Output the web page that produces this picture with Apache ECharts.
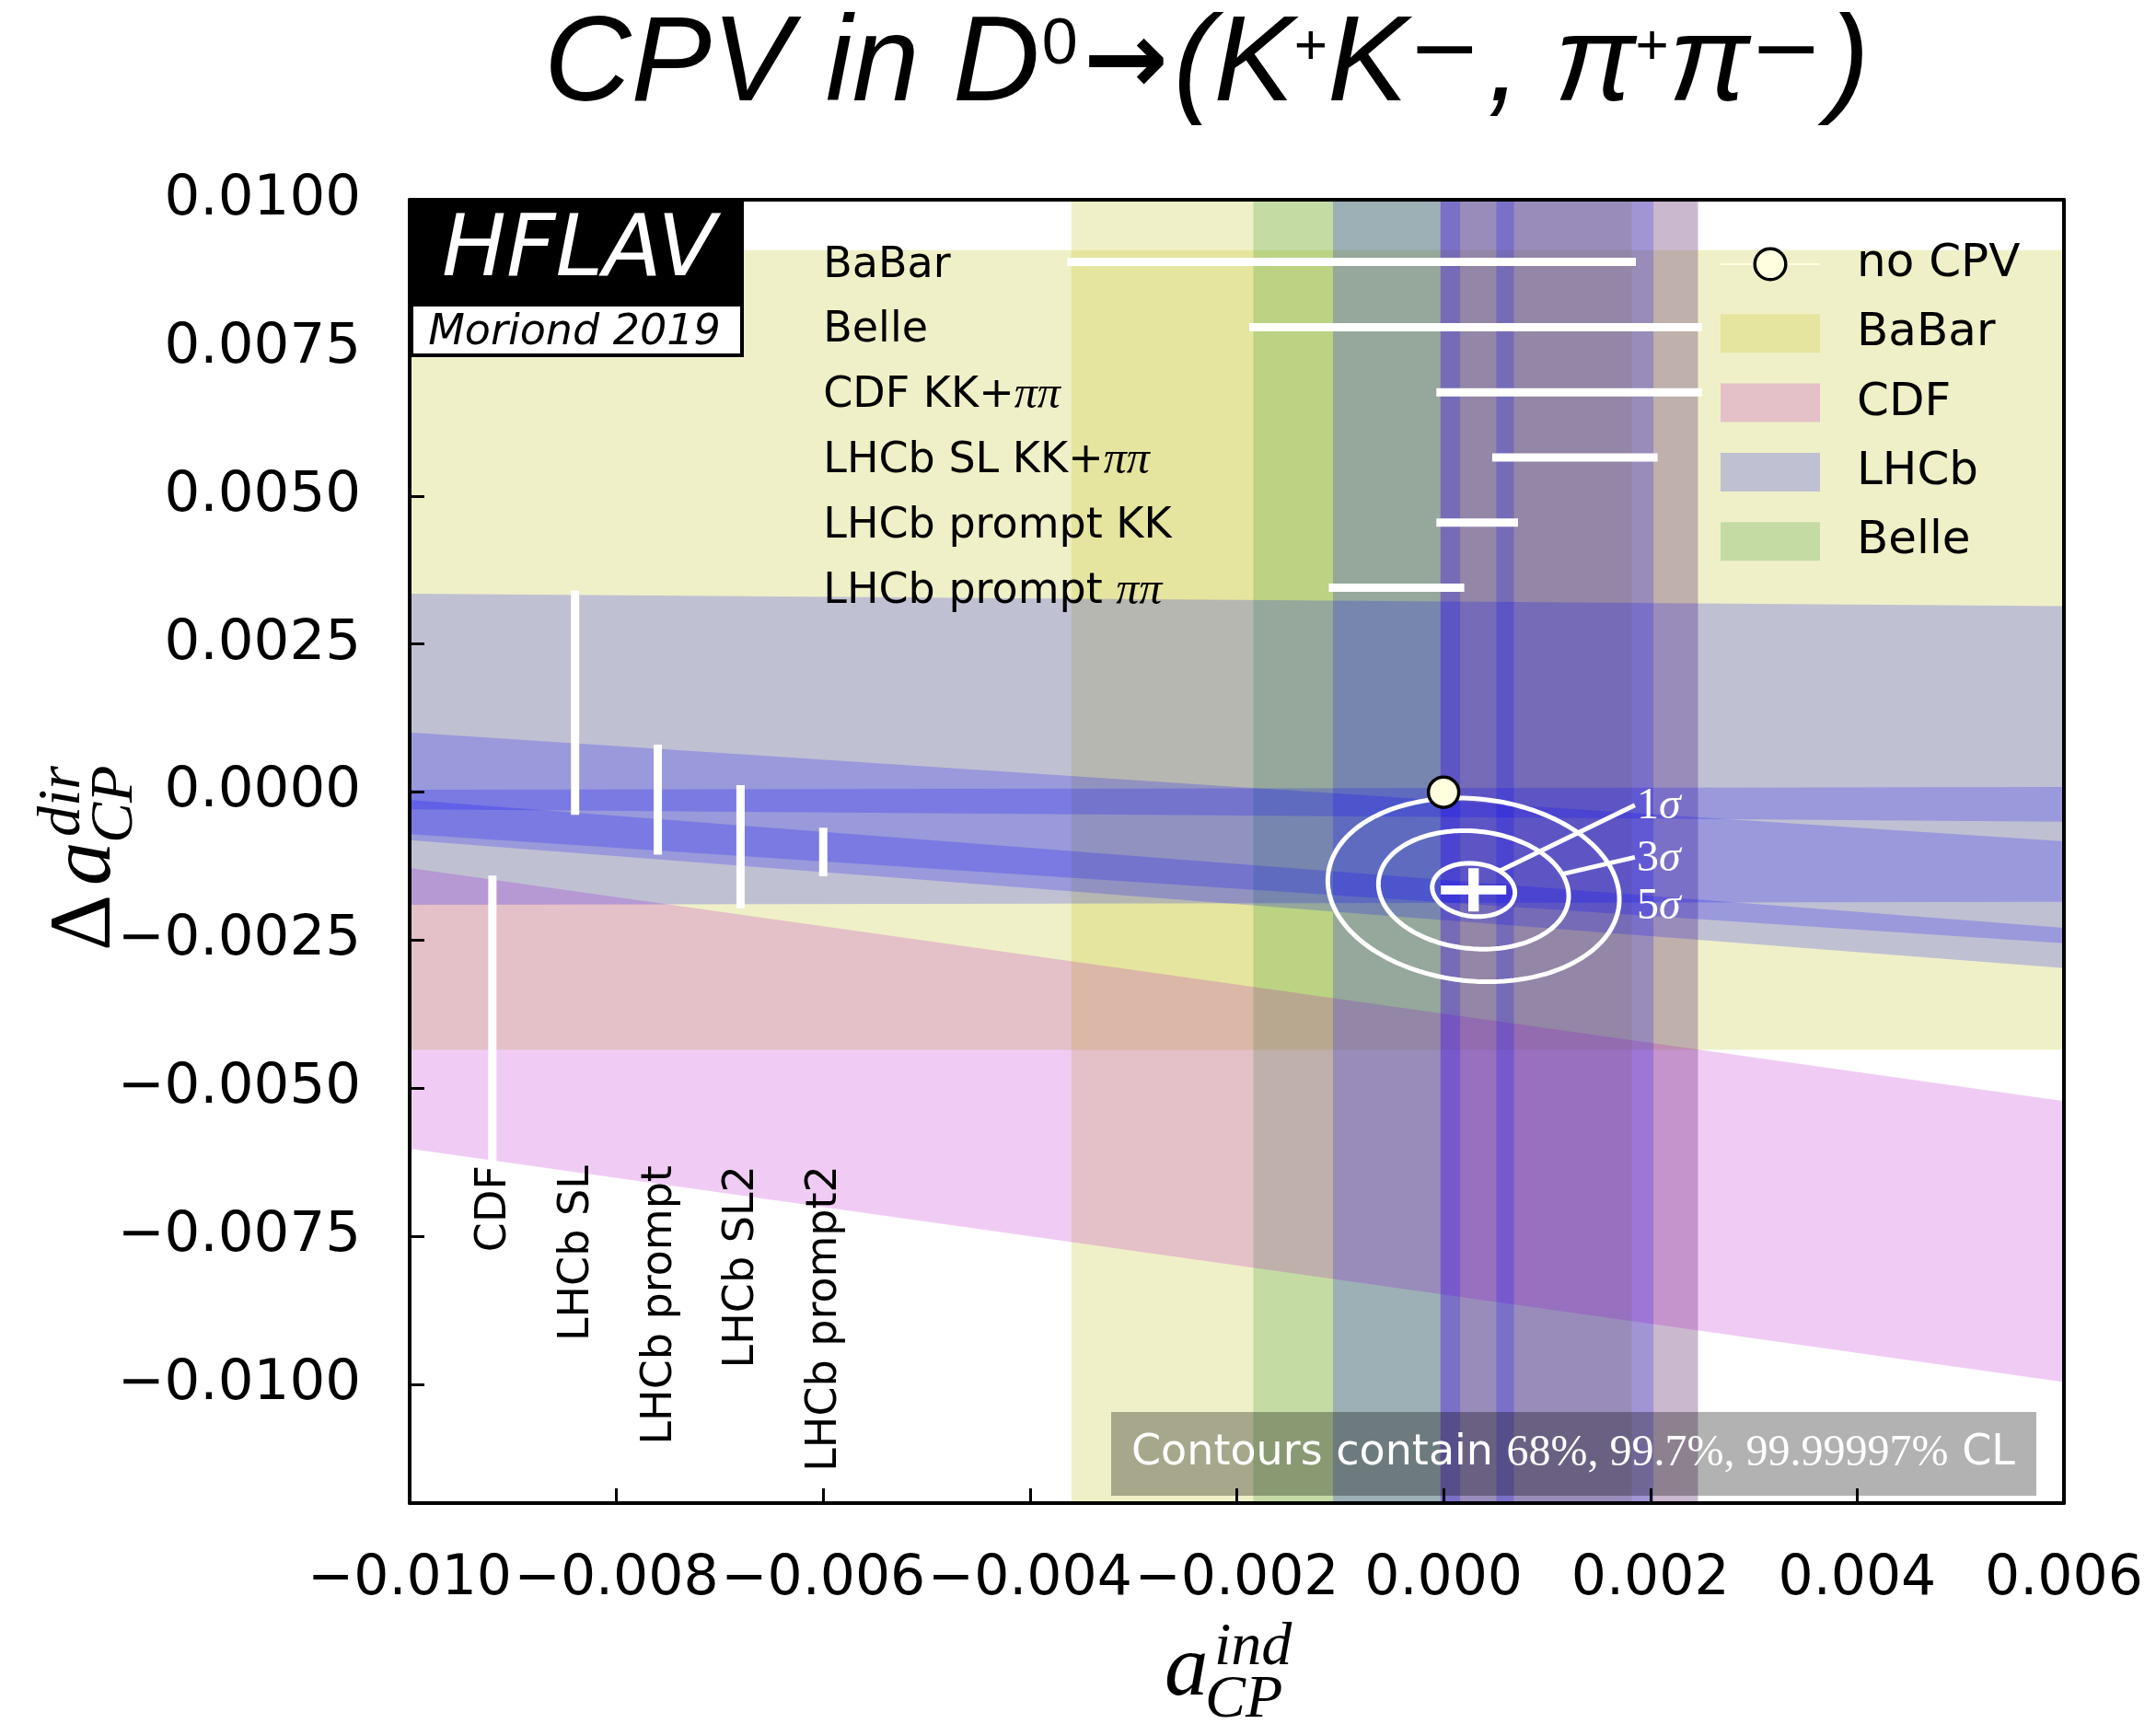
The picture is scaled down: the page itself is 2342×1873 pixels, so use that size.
<!DOCTYPE html>
<html>
<head>
<meta charset="utf-8">
<script src="https://cdn.jsdelivr.net/npm/echarts@6/dist/echarts.min.js"></script>
<style>
  html, body { margin: 0; padding: 0; background: #fff; }
  #chart { width: 2342px; height: 1873px; }
</style>
</head>
<body>
<div id="chart"></div>
<script>
// ---------- axis ranges ----------
const X_MIN = -0.010, X_MAX = 0.006, X_STEP = 0.002;
const Y_MIN = -0.012, Y_MAX = 0.010;
const yTicks = [0.0100, 0.0075, 0.0050, 0.0025, 0.0000, -0.0025, -0.0050, -0.0075, -0.0100];

// ---------- a_CP^ind measurements (vertical bands) ----------
const indLabels = ['BaBar', 'Belle', 'CDF KK+ππ', 'LHCb SL KK+ππ', 'LHCb prompt KK', 'LHCb prompt ππ'];
const indExpt   = ['BaBar', 'Belle', 'CDF', 'LHCb', 'LHCb', 'LHCb'];
const indLow    = [-0.00360, -0.00184, -0.00003, 0.00051, -0.00003, -0.00107];
const indHigh   = [ 0.00182,  0.00246,  0.00246, 0.00203,  0.00068,  0.00016];

// ---------- ΔA_CP measurements: Δa_dir = ΔA_CP − (Δ<t>/τ)·a_ind ----------
const dirLabels = ['BaBar', 'CDF', 'LHCb SL', 'LHCb prompt', 'LHCb SL2', 'LHCb prompt2'];
const dirExpt   = ['BaBar', 'CDF', 'LHCb', 'LHCb', 'LHCb', 'LHCb'];
const dirValue  = [0.00240, -0.00611, 0.00140, -0.00100, -0.00090, -0.00182];
const dirError  = [0.00675,  0.00237, 0.00182,  0.00086,  0.00097,  0.00034];
const dirTime   = [0.000,    0.246,   0.013,    0.115,   -0.003,    0.135];
const dirBarX   = [null,    -0.0092, -0.0084,  -0.0076,  -0.0068,  -0.0060];

// ---------- world average and its confidence contours ----------
const avgCenter = [0.00029, -0.00165];
const avgHalfX  = [0.00040, 0.00092, 0.00141];
const avgHalfY  = [0.00045, 0.00100, 0.00155];
const avgRho    = -0.10;
const sigmaTags = ['1σ', '3σ', '5σ'];
const noCPV     = [0, 0];

// ---------- styling ----------
const exptColor = {
  BaBar: 'rgba(195,195,35,0.25)',
  CDF:   'rgba(180,0,200,0.2)',
  LHCb:  'rgba(0,0,255,0.2)',
  Belle: 'rgba(20,140,20,0.2)'
};
const drawOrder = ['BaBar', 'Belle', 'CDF', 'LHCb'];
const LIST_X = -0.006, ROW_TOP = 0.00895, ROW_STEP = 0.0011;  // measurement list layout
const NAME_Y = -0.0063;                                       // end of rotated names
const TAG_X = 0.00185, TAG_Y = [-0.00022, -0.0011, -0.0019];  // σ tags
const TAG_ANGLE = [0.89, 0.37, null];                         // where leaders leave the contours
const BAR_W = 9;

const fmtSigned = (v, d) => (v < -1e-12 ? '\u2212' : '') + Math.abs(v).toFixed(d);
const richName = s => s.indexOf('ππ') >= 0 ? '{t|' + s.replace('ππ', '') + '}{m|ππ}' : '{t|' + s + '}';
const nameRich = {
  t: { font: '46px "DejaVu Sans"', fill: '#000' },
  m: { font: 'italic 50px "Liberation Serif"', fill: '#000' }
};

function bandSeries(expt) {
  const data = [];
  dirExpt.forEach((e, i) => { if (e === expt) data.push([1, dirValue[i], dirError[i], dirTime[i]]); });
  indExpt.forEach((e, i) => { if (e === expt) data.push([0, indLow[i], indHigh[i], 0]); });
  return {
    type: 'custom', name: expt, clip: true, z: 2, silent: true,
    itemStyle: { color: exptColor[expt] },
    data: data,
    renderItem(params, api) {
      const kind = api.value(0), a = api.value(1), b = api.value(2), r = api.value(3);
      let pts;
      if (kind === 0) {
        pts = [[a, Y_MIN], [b, Y_MIN], [b, Y_MAX], [a, Y_MAX]];
      } else {
        const at = x => a - r * x;
        pts = [[X_MIN, at(X_MIN) + b], [X_MAX, at(X_MAX) + b], [X_MAX, at(X_MAX) - b], [X_MIN, at(X_MIN) - b]];
      }
      return { type: 'polygon', shape: { points: pts.map(p => api.coord(p)) }, style: { fill: exptColor[expt] } };
    }
  };
}

const series = drawOrder.map(bandSeries);

// list of a_CP^ind measurements with their ranges
series.push({
  type: 'custom', name: 'ind-list', z: 5, silent: true, clip: false,
  data: indLabels.map((_, i) => [indLow[i], indHigh[i], i]),
  renderItem(params, api) {
    const i = api.value(2);
    const y = ROW_TOP - ROW_STEP * i;
    const p1 = api.coord([api.value(0), y]), p2 = api.coord([api.value(1), y]);
    const pt = api.coord([LIST_X, y]);
    return { type: 'group', children: [
      { type: 'line', shape: { x1: p1[0], y1: p1[1], x2: p2[0], y2: p2[1] },
        style: { stroke: '#fff', lineWidth: BAR_W, lineCap: 'square' } },
      { type: 'text', x: pt[0], y: pt[1] + 4,
        style: { text: richName(indLabels[i]), rich: nameRich, font: '46px "DejaVu Sans"', fill: '#000',
                 align: 'left', verticalAlign: 'middle' } }
    ] };
  }
});

// ΔA_CP ranges shown at fixed a_ind, with rotated names
series.push({
  type: 'custom', name: 'dir-list', z: 5, silent: true, clip: false,
  data: dirBarX.map((x, i) => x === null ? null : [x, i]).filter(d => d),
  renderItem(params, api) {
    const x = api.value(0), i = api.value(1);
    const c = dirValue[i] - dirTime[i] * x;
    const p1 = api.coord([x, c + dirError[i]]), p2 = api.coord([x, c - dirError[i]]);
    const pt = api.coord([x, NAME_Y]);
    return { type: 'group', children: [
      { type: 'line', shape: { x1: p1[0], y1: p1[1], x2: p2[0], y2: p2[1] },
        style: { stroke: '#fff', lineWidth: BAR_W, lineCap: 'square' } },
      { type: 'text', x: pt[0] + 2, y: pt[1], rotation: Math.PI / 2,
        style: { text: dirLabels[i], font: '46px "DejaVu Sans"', fill: '#000',
                 align: 'right', verticalAlign: 'middle' } }
    ] };
  }
});

// confidence contours of the average
series.push({
  type: 'custom', name: 'contours', z: 6, silent: true, clip: true,
  data: avgHalfX.map((hx, i) => [hx, avgHalfY[i], i]),
  renderItem(params, api) {
    const hx = api.value(0), hy = api.value(1), i = api.value(2);
    const s = Math.sqrt(1 - avgRho * avgRho);
    const onContour = t => [avgCenter[0] + hx * Math.cos(t),
                            avgCenter[1] + hy * (avgRho * Math.cos(t) + s * Math.sin(t))];
    const pts = [];
    for (let k = 0; k <= 180; k++) pts.push(api.coord(onContour(2 * Math.PI * k / 180)));
    const tag = api.coord([TAG_X, TAG_Y[i]]);
    const children = [
      { type: 'polygon', shape: { points: pts }, style: { fill: 'none', stroke: '#fff', lineWidth: 5 } },
      { type: 'text', x: tag[0] + 2, y: tag[1] + 2,
        style: { text: '{n|' + sigmaTags[i][0] + '}{s|σ}', font: '48px "Liberation Serif"', fill: '#fff',
                 rich: { n: { font: '48px "Liberation Serif"', fill: '#fff' },
                         s: { font: 'italic 48px "Liberation Serif"', fill: '#fff' } },
                 align: 'left', verticalAlign: 'middle' } }
    ];
    if (TAG_ANGLE[i] !== null) {
      const st = api.coord(onContour(TAG_ANGLE[i]));
      children.push({ type: 'line', shape: { x1: st[0], y1: st[1], x2: tag[0], y2: tag[1] },
                      style: { stroke: '#fff', lineWidth: 5 } });
    }
    return { type: 'group', children };
  }
});

// central value
series.push({
  type: 'scatter', name: 'average', z: 7, silent: true,
  symbol: 'path://M0,39.5H100V60.5H0Z M42,0H58V100H42Z', symbolSize: [71, 47],
  itemStyle: { color: '#fff', opacity: 1 },
  data: [avgCenter]
});

// no-CPV point
series.push({
  type: 'line', name: 'no CPV', z: 8, silent: true,
  symbol: 'circle', symbolSize: 33, showSymbol: true,
  itemStyle: { color: '#ffffe0', borderColor: '#000', borderWidth: 3.5 },
  lineStyle: { color: '#ffffe0', width: 8 },
  data: [noCPV]
});

const axisLineStyle = { show: true, onZero: false, lineStyle: { color: '#000', width: 4 } };
const titleTok = (o) => Object.assign({ color: '#000', fontWeight: 'normal' }, o);

const option = {
  animation: false,
  backgroundColor: '#fff',
  title: {
    left: 591, top: 7, padding: 0,
    text: '{m|CPV in D}{z|0}{a|→}{m|(K}{p|+}{m|K}{n|−}{m|, π}{p|+}{m|π}{n|−}{m|)}',
    textStyle: {
      fontWeight: 'normal',
      rich: {
        m: titleTok({ fontFamily: 'Liberation Sans', fontStyle: 'italic', fontSize: 131 }),
        z: titleTok({ fontFamily: 'Liberation Sans', fontSize: 70,
                      verticalAlign: 'top', padding: [8, 2, 0, 2] }),
        a: titleTok({ fontFamily: 'DejaVu Sans', fontWeight: 'bold', fontSize: 110, padding: [0, 6, 0, 4] }),
        p: titleTok({ fontFamily: 'Liberation Sans', fontSize: 62, verticalAlign: 'top', padding: [14, 0, 0, 0] }),
        n: titleTok({ fontFamily: 'DejaVu Sans', fontSize: 95, verticalAlign: 'top', padding: [5, 7, 0, 0] })
      }
    }
  },
  grid: { left: 445, right: 100, top: 217, bottom: 240, containLabel: false },
  xAxis: [
    { type: 'value', min: X_MIN, max: X_MAX, interval: X_STEP, position: 'bottom', z: 10,
      axisLine: axisLineStyle,
      axisTick: { show: true, inside: true, length: 16, lineStyle: { color: '#000', width: 3 } },
      axisLabel: { fontFamily: 'DejaVu Sans', fontSize: 60, color: '#000', margin: 53,
                   showMinLabel: true, showMaxLabel: true, hideOverlap: false,
                   formatter: v => fmtSigned(v, 3) },
      splitLine: { show: false } },
    { type: 'value', min: X_MIN, max: X_MAX, position: 'top', z: 10,
      axisLine: axisLineStyle, axisTick: { show: false }, axisLabel: { show: false }, splitLine: { show: false } }
  ],
  yAxis: [
    { type: 'value', min: Y_MIN, max: Y_MAX, position: 'left', z: 10,
      axisLine: axisLineStyle,
      axisTick: { show: true, inside: true, length: 16, customValues: yTicks,
                  lineStyle: { color: '#000', width: 3 } },
      axisLabel: { customValues: yTicks, fontFamily: 'DejaVu Sans', fontSize: 61, color: '#000', margin: 53,
                   formatter: v => fmtSigned(v, 4) },
      splitLine: { show: false } },
    { type: 'value', min: Y_MIN, max: Y_MAX, position: 'right', z: 10,
      axisLine: axisLineStyle, axisTick: { show: false }, axisLabel: { show: false }, splitLine: { show: false } }
  ],
  legend: {
    orient: 'vertical', left: 1868, top: 262, padding: 0,
    itemWidth: 108, itemHeight: 42, itemGap: 25.3, selectedMode: false,
    textStyle: { fontFamily: 'DejaVu Sans', fontSize: 50, color: '#000', padding: [0, 0, 0, 35] },
    data: [
      { name: 'no CPV', itemStyle: { borderWidth: 3.5, borderColor: '#000' } },
      { name: 'BaBar', icon: 'rect', itemStyle: { borderWidth: 0 } },
      { name: 'CDF', icon: 'rect', itemStyle: { borderWidth: 0 } },
      { name: 'LHCb', icon: 'rect', itemStyle: { borderWidth: 0 } },
      { name: 'Belle', icon: 'rect', itemStyle: { borderWidth: 0 } }
    ]
  },
  graphic: [
    // HFLAV logo
    { type: 'rect', z: 100, shape: { x: 445, y: 217, width: 363, height: 114 }, style: { fill: '#000' } },
    { type: 'rect', z: 100, shape: { x: 447, y: 331, width: 359, height: 55 },
      style: { fill: '#fff', stroke: '#000', lineWidth: 4 } },
    { type: 'text', z: 101, x: 629, y: 275,
      style: { text: 'HFLAV', font: 'italic 93px "DejaVu Sans"', fill: '#fff', align: 'center', verticalAlign: 'middle' } },
    { type: 'text', z: 101, x: 624, y: 362,
      style: { text: 'Moriond 2019', font: 'italic 46px "DejaVu Sans"', fill: '#000', align: 'center', verticalAlign: 'middle' } },
    // confidence-level note
    { type: 'rect', z: 100, shape: { x: 1207, y: 1534, width: 1005, height: 91 }, style: { fill: 'rgba(0,0,0,0.3)' } },
    { type: 'text', z: 101, x: 1229, y: 1579,
      style: { text: '{s|Contours contain }{m|68%, 99.7%, 99.99997%}{s| CL}', font: '46px "DejaVu Sans"', fill: '#fff',
               rich: { s: { font: '46px "DejaVu Sans"', fill: '#fff' },
                       m: { font: '48px "Liberation Serif"', fill: '#fff' } },
               align: 'left', verticalAlign: 'middle' } },
    // x axis title: a_CP^ind
    { type: 'group', z: 100, x: 1265, y: 1848, children: [
      { type: 'text', z: 100, x: 0, y: -32, style: { text: 'a', font: 'italic 95px "Liberation Serif"', fill: '#000', align: 'left', verticalAlign: 'middle' } },
      { type: 'text', z: 100, x: 54, y: -57, style: { text: 'ind', font: 'italic 66px "Liberation Serif"', fill: '#000', align: 'left', verticalAlign: 'middle' } },
      { type: 'text', z: 100, x: 44, y: 0, style: { text: 'CP', font: 'italic 66px "Liberation Serif"', fill: '#000', align: 'left', verticalAlign: 'middle' } }
    ] },
    // y axis title: Δa_CP^dir
    { type: 'group', z: 100, x: 126, y: 1033, rotation: Math.PI / 2, children: [
      { type: 'text', z: 100, x: 0, y: -32, style: { text: 'Δ', font: '95px "Liberation Serif"', fill: '#000', align: 'left', verticalAlign: 'middle' } },
      { type: 'text', z: 100, x: 71, y: -32, style: { text: 'a', font: 'italic 95px "Liberation Serif"', fill: '#000', align: 'left', verticalAlign: 'middle' } },
      { type: 'text', z: 100, x: 124, y: -57, style: { text: 'dir', font: 'italic 66px "Liberation Serif"', fill: '#000', align: 'left', verticalAlign: 'middle' } },
      { type: 'text', z: 100, x: 117, y: 0, style: { text: 'CP', font: 'italic 66px "Liberation Serif"', fill: '#000', align: 'left', verticalAlign: 'middle' } }
    ] }
  ],
  series: series
};

const chart = echarts.init(document.getElementById('chart'), null, { renderer: 'canvas' });
chart.setOption(option);
</script>
</body>
</html>
